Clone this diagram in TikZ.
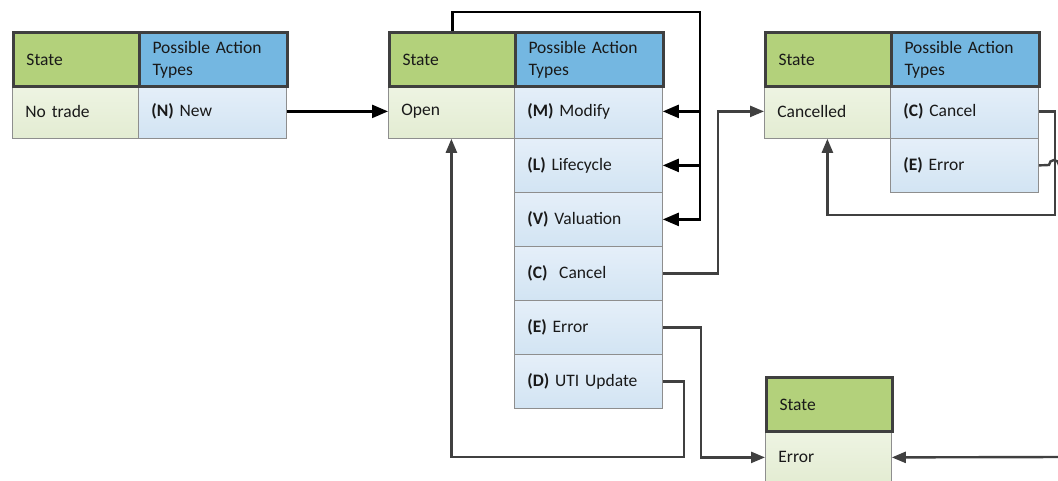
\documentclass[tikz,border=0pt]{standalone}
\usepackage{fontspec}
\setmainfont{Carlito}
\usetikzlibrary{arrows.meta}

\definecolor{hdgreen}{HTML}{B3D17B}
\definecolor{hdblue}{HTML}{74B7E1}
\definecolor{hdline}{HTML}{3F3F3F}
\definecolor{rowline}{HTML}{8E8E8E}
\definecolor{gntop}{HTML}{EEF4E3}
\definecolor{gnbot}{HTML}{E3ECD2}
\definecolor{bltop}{HTML}{E5EFF9}
\definecolor{blbot}{HTML}{D2E4F3}
\definecolor{wire}{HTML}{404040}

\begin{document}
\begin{tikzpicture}[x=1pt,y=-1pt,
    cell/.style={rectangle,anchor=north west,inner xsep=13pt,inner ysep=0pt,
      minimum height=54pt,align=left,text=black!90,font=\fontsize{17.5}{22}\selectfont},
    scol/.style={cell,minimum width=126pt,text width=100pt},
    acol/.style={cell,minimum width=148pt,text width=122pt},
    shead/.style={scol,draw=hdline,line width=3pt,fill=hdgreen},
    ahead/.style={acol,draw=hdline,line width=3pt,fill=hdblue},
    srow/.style={scol,draw=rowline,line width=0.8pt,top color=gntop,bottom color=gnbot},
    arow/.style={acol,draw=rowline,line width=0.8pt,top color=bltop,bottom color=blbot},
    blk/.style={draw=black,line width=2.4pt,-{Triangle[length=16pt,width=13pt]}},
    gry/.style={draw=wire,line width=2.4pt,-{Triangle[length=14pt,width=11pt]}}]

    \useasboundingbox (0,0) rectangle (1058,481);

    % no trade
    \node [srow] (notrade) at (12,84) {No trade};
    \node [arow] (new) at (138,84) {\textbf{(N)} New};
    \node [shead] (sh1) at (12,31) {State};
    \node [ahead] (ah1) at (138,31) {Possible Action\\Types};

    % open
    \node [srow] (open) at (388,84) {Open};
    \node [arow] (mod) at (514,84) {\textbf{(M)} Modify};
    \node [arow] (life) at (514,138) {\textbf{(L)} Lifecycle};
    \node [arow] (val) at (514,192) {\textbf{(V)} Valuation};
    \node [arow] (can) at (514,246) {\textbf{(C)} \ Cancel};
    \node [arow] (err) at (514,300) {\textbf{(E)} Error};
    \node [arow] (uti) at (514,354) {\textbf{(D)} UTI Update};
    \node [shead] (sh2) at (388,31) {State};
    \node [ahead] (ah2) at (514,31) {Possible Action\\Types};

    % cancelled
    \node [srow] (cld) at (764,84) {Cancelled};
    \node [arow] (cancan) at (890,84) {\textbf{(C)} Cancel};
    \node [arow] (canerr) at (890,138) {\textbf{(E)} Error};
    \node [shead] (sh3) at (764,31) {State};
    \node [ahead] (ah3) at (890,31) {Possible Action\\Types};

    % error
    \node [srow] (error) at (765,430) {Error};
    \node [shead] (sh4) at (765,376) {State};

    \coordinate (loop) at (700,12);
    \coordinate (offA) at (1064,165);
    \coordinate (offB) at (1064,457);

    \draw [blk] (new.east) -- (open.west);
    \draw [blk] (sh2.north) |- (loop) |- (val.east);
    \draw [blk] (loop |- mod.east) -- (mod.east);
    \draw [blk] (loop |- life.east) -- (life.east);

    \draw [gry] (can.east) -- ++(55,0) |- (cld.west);
    \draw [gry] (err.east) -- ++(38,0) |- (error.west);
    \draw [gry] (uti.east) -- ++(21,0) |- (open.south |- 0,457) -- (open.south);

    \draw [gry] (cancan.east) -- ++(16,0) |- (cld.south |- 0,215) -- (cld.south);
    \draw [wire,line width=2.4pt] (canerr.east) -- (1049,165) arc (180:360:5) -- (offA);
    \draw [gry] (offB) -- (error.east);

  \end{tikzpicture}
\end{document}
